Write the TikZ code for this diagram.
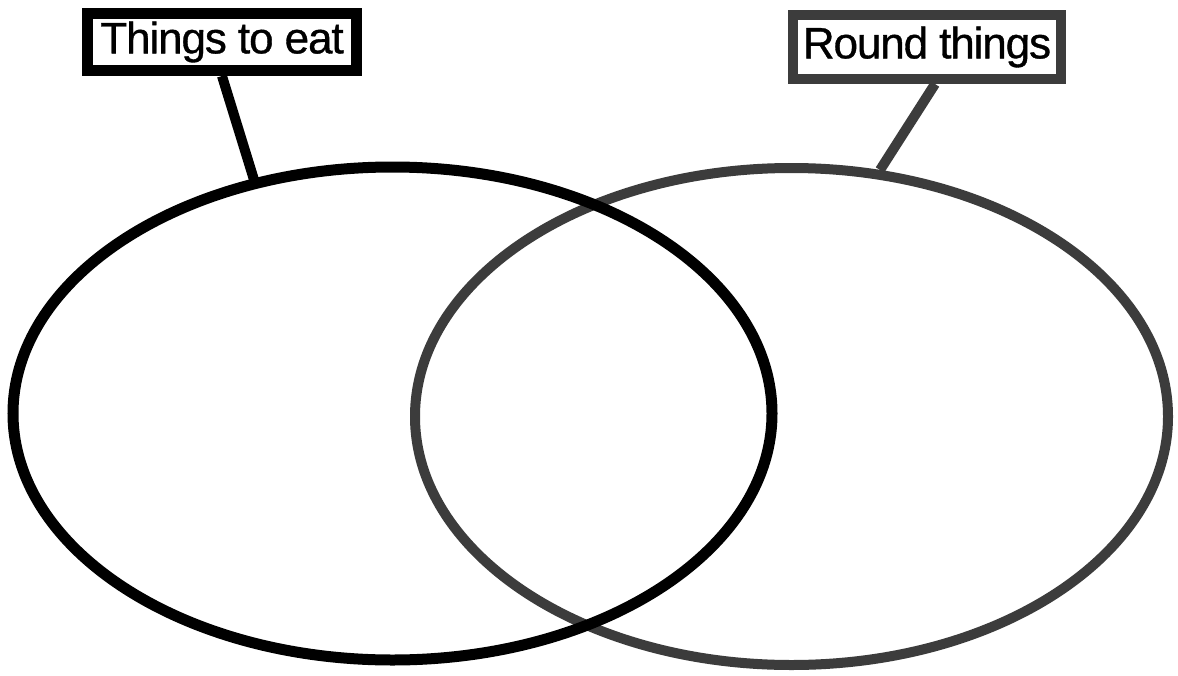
\documentclass[tikz,border=0pt]{standalone}
\usepackage{fontspec}
\setmainfont{Liberation Sans}
\newfontfamily\labelfont{Liberation Sans}[FakeBold=0.8, LetterSpace=-2.5]
\usetikzlibrary{shapes.geometric}
\definecolor{ringgray}{HTML}{3C3C3C}
\tikzset{
  label box/.style={draw, line width=11pt, inner sep=0pt, fill=white,
    font=\labelfont\fontsize{44}{50}\selectfont},
  ring/.style={ellipse, draw, line width=11pt, inner sep=0pt, outer sep=0pt},
  stem/.style={line width=10pt},
}
\begin{document}
\begin{tikzpicture}[x=1pt,y=-1pt]
\useasboundingbox[fill=white] (0,0) rectangle (1178,675);
% right (gray) ellipse first, black one on top
\node[ring, draw=ringgray, line width=10pt, minimum width=753pt, minimum height=497pt] (R) at (791.5,416.5) {};
\node[ring, draw=black, minimum width=759pt, minimum height=493pt] (L) at (392.5,413.5) {};
% label boxes
\node[label box, draw=black, minimum width=269pt, minimum height=57pt] (boxL) at (222,42) {Things to eat};
\node[label box, draw=ringgray, line width=10pt, minimum width=268pt, minimum height=64pt] (boxR) at (927,47) {Round things};
% connector end points on the ellipses
\coordinate (tL) at (255,183);
\coordinate (tR) at (880,170);
\draw[stem, draw=black] (boxL.south) -- (tL);
\draw[stem, draw=ringgray] ([xshift=8pt]boxR.south) -- (tR);
\end{tikzpicture}
\end{document}
